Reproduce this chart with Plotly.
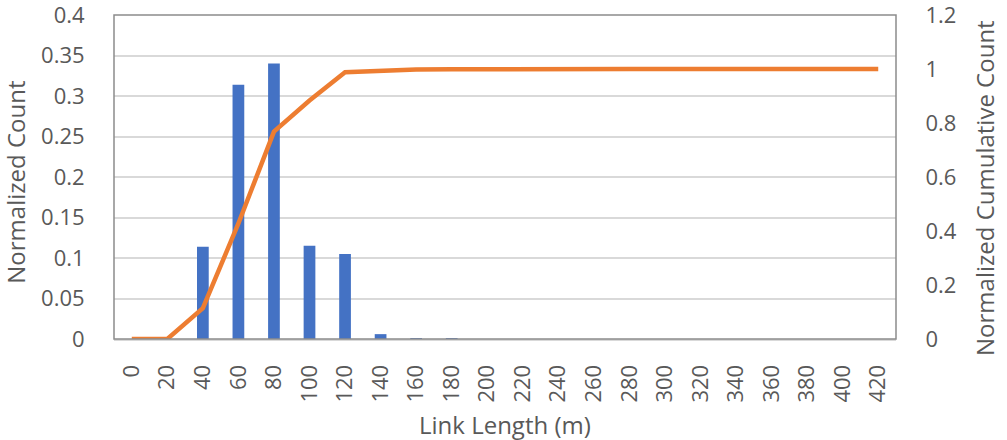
import plotly.graph_objects as go

categories = ["0", "20", "40", "60", "80", "100", "120", "140", "160", "180", "200",
              "220", "240", "260", "280", "300", "320", "340", "360", "380", "400", "420"]
normalized_count = [0, 0, 0.114, 0.314, 0.34, 0.115, 0.105, 0.006, 0.0004, 0.0004, 0,
                    0, 0, 0, 0, 0, 0, 0, 0, 0, 0, 0]
cumulative_count = [0, 0, 0.114, 0.428, 0.768, 0.883, 0.988, 0.994, 0.998, 0.999, 1.0,
                    1.0, 1.0, 1.0, 1.0, 1.0, 1.0, 1.0, 1.0, 1.0, 1.0, 1.0]
left_ticks = [0, 0.05, 0.1, 0.15, 0.2, 0.25, 0.3, 0.35, 0.4]
left_tick_text = ["0", "0.05", "0.1", "0.15", "0.2", "0.25", "0.3", "0.35", "0.4"]
right_ticks = [0, 0.2, 0.4, 0.6, 0.8, 1.0, 1.2]
right_tick_text = ["0", "0.2", "0.4", "0.6", "0.8", "1", "1.2"]
x_title = "Link Length (m)"
y_title = "Normalized Count"
y2_title = "Normalized Cumulative Count"

font_family = "Open Sans"
grey = "#595959"

fig = go.Figure()
fig.add_trace(go.Bar(x=categories, y=normalized_count, marker=dict(color="#4472C4", line=dict(width=0)),
                     name=y_title))
fig.add_trace(go.Scatter(x=categories, y=cumulative_count, yaxis="y2", mode="lines",
                         line=dict(color="#ED7D31", width=4.5), name=y2_title))

fig.update_layout(
    width=1007, height=440,
    margin=dict(l=114, r=111, t=15, b=101),
    paper_bgcolor="white", plot_bgcolor="white",
    showlegend=False,
    bargap=0.67,
    font=dict(family=font_family, color=grey, size=22),
    xaxis=dict(type="category", tickangle=-90, tickfont=dict(size=22, color=grey),
               showgrid=False, showline=True, linecolor="#d9d9d9", linewidth=2,
               ticks="outside", ticklen=15, tickcolor="rgba(0,0,0,0)", automargin=False),
    yaxis=dict(range=[0, 0.4], tickmode="array", tickvals=left_ticks, ticktext=left_tick_text,
               tickfont=dict(size=22, color=grey), ticklabeloverflow="allow",
               showgrid=True, gridcolor="#d9d9d9", gridwidth=1.5, zeroline=False,
               showline=False, ticks="outside", ticklen=24, tickcolor="rgba(0,0,0,0)", automargin=False),
    yaxis2=dict(range=[0, 1.2], tickmode="array", tickvals=right_ticks, ticktext=right_tick_text,
                overlaying="y", side="right", ticklabeloverflow="allow",
                tickfont=dict(size=22, color=grey), showgrid=False, zeroline=False,
                showline=False, ticks="outside", ticklen=24, tickcolor="rgba(0,0,0,0)", automargin=False),
)

fig.add_annotation(text=x_title, xref="paper", yref="paper", x=0.5, y=-0.265,
                   xanchor="center", yanchor="middle", showarrow=False,
                   font=dict(size=24, color=grey))
fig.add_annotation(text=y_title, xref="paper", yref="paper", x=-0.1255, y=0.485,
                   xanchor="center", yanchor="middle", showarrow=False, textangle=-90,
                   font=dict(size=24, color=grey))
fig.add_annotation(text=y2_title, xref="paper", yref="paper", x=1.1125, y=0.466,
                   xanchor="center", yanchor="middle", showarrow=False, textangle=-90,
                   font=dict(size=24, color=grey))

fig.add_shape(type="rect", xref="paper", yref="paper", x0=0, x1=1, y0=0, y1=1,
              line=dict(color="#8c8c8c", width=1.5), fillcolor="rgba(0,0,0,0)", layer="above")

fig.write_html("out.html", config={"displayModeBar": False},
               post_script="document.body.style.margin='0';")
